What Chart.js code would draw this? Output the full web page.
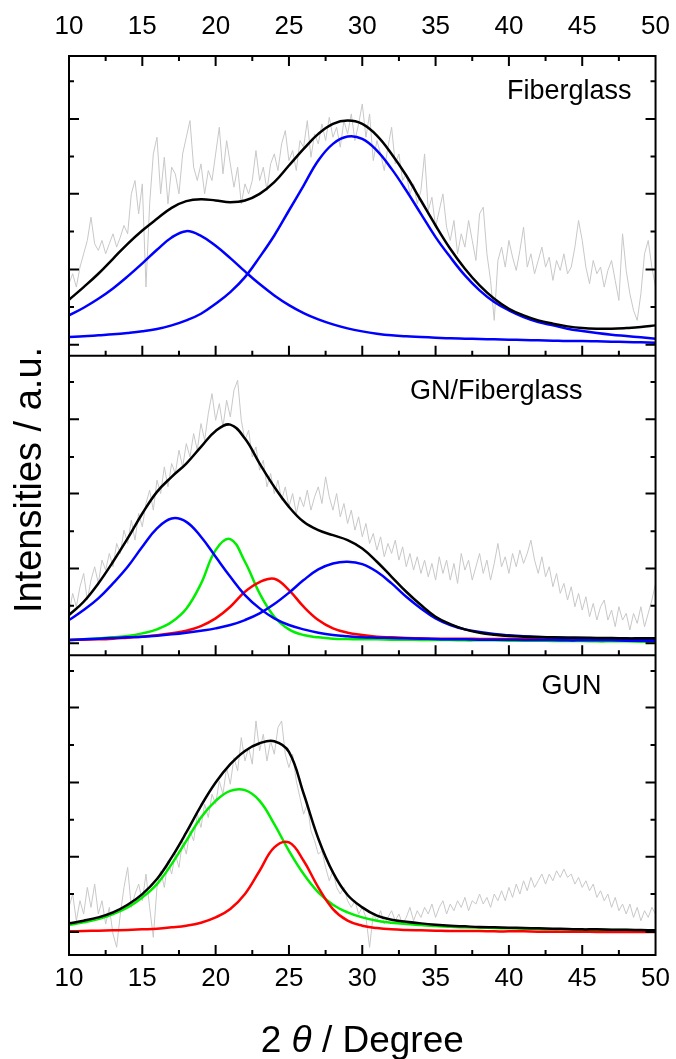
<!DOCTYPE html>
<html>
<head>
<meta charset="utf-8">
<script src="https://cdn.jsdelivr.net/npm/chart.js@4"></script>
<style>
  html, body { margin: 0; padding: 0; background: #fff; }
  #wrap { position: relative; width: 676px; height: 1059px; }
</style>
</head>
<body>
<div id="wrap"><canvas id="xrdChart"></canvas></div>
<script>
// 2-theta grid of the fitted curves and of the measured scans
const fitAngles = [10,11,12,13,14,15,16,17,18,19,20,21,22,23,24,25,26,27,28,29,30,
  31,32,33,34,35,36,37,38,39,40,41,42,43,44,45,46,47,48,49,50];
const rawAngles = [10,10.25,10.5,10.75,11,11.25,11.5,11.75,12,12.25,12.5,12.75,
  13,13.25,13.5,13.75,14,14.25,14.5,14.75,15,15.25,15.5,15.75,
  16,16.25,16.5,16.75,17,17.25,17.5,17.75,18,18.25,18.5,18.75,
  19,19.25,19.5,19.75,20,20.25,20.5,20.75,21,21.25,21.5,21.75,
  22,22.25,22.5,22.75,23,23.25,23.5,23.75,24,24.25,24.5,24.75,
  25,25.25,25.5,25.75,26,26.25,26.5,26.75,27,27.25,27.5,27.75,
  28,28.25,28.5,28.75,29,29.25,29.5,29.75,30,30.25,30.5,30.75,
  31,31.25,31.5,31.75,32,32.25,32.5,32.75,33,33.25,33.5,33.75,
  34,34.25,34.5,34.75,35,35.25,35.5,35.75,36,36.25,36.5,36.75,
  37,37.25,37.5,37.75,38,38.25,38.5,38.75,39,39.25,39.5,39.75,
  40,40.25,40.5,40.75,41,41.25,41.5,41.75,42,42.25,42.5,42.75,
  43,43.25,43.5,43.75,44,44.25,44.5,44.75,45,45.25,45.5,45.75,
  46,46.25,46.5,46.75,47,47.25,47.5,47.75,48,48.25,48.5,48.75,
  49,49.25,49.5,49.75,50];

// Fiberglass
const fibRaw = [216,246,206,266,306,346,416,336,316,346,306,336,
  366,326,356,391,366,486,526,426,516,206,456,606,
  656,486,596,456,566,546,486,606,656,706,566,526,
  576,486,556,526,606,686,546,646,576,506,566,456,
  516,486,526,616,526,566,496,576,606,556,636,676,
  586,616,556,646,626,706,596,666,636,696,646,716,
  656,686,626,706,666,726,646,696,756,656,726,586,
  646,606,556,626,686,576,606,526,546,486,516,456,
  496,606,436,476,386,436,486,386,346,406,306,366,
  326,406,346,286,426,446,306,226,106,286,326,266,
  346,296,256,316,386,266,306,246,286,326,266,296,
  226,286,256,306,246,266,326,406,346,266,216,286,
  246,266,206,256,286,226,166,366,256,186,136,106,
  186,306,346,266,206];
const fibFit = [168,206,246,291,336,376,411,444,464,470,466,461,466,486,521,571,621,666,696,706,
  696,661,606,541,466,391,321,261,211,171,141,121,106,96,88,83,81,81,83,86,91];
const fibPeak1 = [121,144,171,202,238,277,318,355,374,360,330,293,253,215,181,152,128,109,94,82,
  73,66,61,58,56,54,52,51,50,49,48,47,46,45,44,44,43,42,41,40,39];
const fibPeak2 = [56,58,61,64,68,73,80,91,106,126,156,191,236,296,361,436,511,586,636,658,
  651,616,561,496,426,356,296,241,196,161,136,116,101,91,81,74,68,63,59,55,51];

// GN/Fiberglass
const gnRaw = [126,186,146,206,246,166,226,266,216,286,256,306,
  266,336,306,376,336,406,346,426,386,456,496,436,
  526,486,566,506,576,546,616,566,636,596,666,616,
  696,646,726,786,706,756,686,766,716,796,826,706,
  646,676,596,626,556,586,506,546,486,526,466,506,
  446,486,426,476,446,496,436,476,506,456,536,476,
  436,486,416,456,396,436,376,416,356,396,336,366,
  316,356,296,336,306,346,286,326,266,306,256,296,
  246,286,236,276,226,296,246,286,226,276,216,306,
  256,286,226,266,306,246,286,226,276,336,266,296,
  246,306,266,316,276,306,346,286,246,296,236,266,
  206,246,186,216,166,206,146,186,136,176,116,156,
  106,146,166,106,136,86,146,106,126,76,126,96,
  146,86,126,166,216];
const gnFit = [121,161,216,281,351,426,491,536,576,626,674,693,651,576,506,446,401,376,361,346,
  321,281,236,191,151,116,94,78,68,62,58,56,55,54,53,53,52,52,51,51,51];
const gnPeak17 = [106,136,171,216,266,326,381,411,401,356,296,236,181,141,111,91,78,68,61,57,
  54,53,52,51,50,49,48,48,47,47,47,46,46,46,45,45,45,45,44,44,44];
const gnPeak21 = [46,48,51,54,58,66,78,100,140,215,316,349,281,186,116,78,61,54,50,49,
  48,48,47,47,46,46,46,45,45,45,44,44,44,43,43,43,42,42,42,41,41];
const gnPeak24 = [46,47,48,50,53,56,60,66,74,88,111,146,191,220,230,196,146,106,81,68,
  61,56,54,52,51,50,50,50,49,49,49,49,48,48,48,48,47,47,47,47,47];
const gnPeak29 = [46,48,50,52,54,56,59,63,68,74,81,91,106,126,154,188,226,258,276,281,
  274,251,216,176,141,111,91,78,70,64,60,57,55,54,53,52,51,51,50,50,49];

// GUN
const gunRaw = [143,183,103,163,123,203,143,213,123,163,93,143,
  63,23,123,203,263,143,183,213,163,243,143,53,
  203,253,203,283,243,303,263,343,303,373,343,423,
  383,453,413,483,453,523,483,563,513,593,553,653,
  583,623,573,703,613,663,583,643,603,683,703,603,
  563,603,523,473,423,453,373,343,303,313,263,223,
  253,203,183,203,163,143,163,123,143,113,23,123,
  103,133,93,113,133,103,123,93,113,143,103,133,
  113,143,123,153,113,143,163,123,153,133,163,143,
  173,133,163,153,183,153,173,143,183,163,193,163,
  203,173,213,183,223,193,233,203,223,243,213,243,
  223,253,233,258,233,243,213,233,203,223,193,213,
  173,193,163,183,143,173,133,153,123,153,113,143,
  103,133,113,143,123];
const gunFit = [95,103,113,128,151,183,228,293,368,448,518,573,613,636,642,610,485,350,248,180,
  143,118,106,100,95,91,88,86,84,83,82,81,80,79,78,77,77,76,76,75,74];
const gunPeakG = [91,98,108,123,143,173,213,273,343,413,463,493,495,463,393,313,243,188,151,128,
  113,103,97,93,90,87,85,83,82,81,80,79,78,77,77,76,76,75,75,74,74];
const gunPeakR = [71,72,73,74,75,77,79,83,88,97,113,138,183,253,323,338,283,203,138,103,
  88,81,77,75,74,73,72,72,72,71,71,71,70,70,70,70,69,69,69,69,69];

// unlabelled intensity ticks of each panel
const fibTicks = [33,146,259,373,486,598,711,824];
const gnTicks = [36,149,261,373,486,596,709,821];
const gunTicks = [69,183,295,406,518,631,743,853];

const panelNames = ['Fiberglass', 'GN/Fiberglass', 'GUN'];

const GRAY = '#c8c8c8', BLACK = '#000000', BLUE = '#0000ff', GREEN = '#00ee00', RED = '#ff0000';

Chart.defaults.font.family = "'Liberation Sans', Arial, sans-serif";
Chart.defaults.color = '#000';

function pts(xs, ys) {
  return ys.map((v, i) => ({x: xs[i], y: v}));
}
function rawSet(values, axis) {
  return {data: pts(rawAngles, values), yAxisID: axis, borderColor: GRAY, borderWidth: 1, order: 3, tension: 0};
}
function fitSet(values, axis, color, order) {
  return {data: pts(fitAngles, values), yAxisID: axis, borderColor: color, borderWidth: 2.5,
    order: order, tension: 0.4};
}

const panelAxes = ['yFib', 'yGN', 'yGUN'];
const tickSets = [fibTicks, gnTicks, gunTicks];
const labelSpots = [{dx: 24, dy: 43}, {dx: 73, dy: 43}, {dx: 54, dy: 39}];

const framePlugin = {
  id: 'frame',
  afterDraw(chart) {
    const {ctx, chartArea: area, scales} = chart;
    const xs = scales.x;
    const majors = xs.ticks.map(t => t.value);
    const minors = majors.slice(1).map((v, i) => (v + majors[i]) / 2);
    ctx.save();
    ctx.strokeStyle = '#000';
    ctx.lineWidth = 2;
    ctx.beginPath();
    panelAxes.forEach((id, i) => {
      const ys = scales[id];
      const top = ys.top, bottom = ys.bottom;
      [[majors, 10], [minors, 5]].forEach(([vals, len]) => {
        vals.forEach(v => {
          if (v <= xs.min || v >= xs.max) return;
          const px = xs.getPixelForValue(v);
          ctx.moveTo(px, bottom); ctx.lineTo(px, bottom - len);
          if (i === 0) { ctx.moveTo(px, top); ctx.lineTo(px, top + len); }
        });
      });
      tickSets[i].forEach((v, k) => {
        const py = ys.getPixelForValue(v);
        const len = k % 2 === 0 ? 10 : 5;
        ctx.moveTo(area.left, py); ctx.lineTo(area.left + len, py);
        ctx.moveTo(area.right, py); ctx.lineTo(area.right - len, py);
      });
      if (i > 0) { ctx.moveTo(area.left, top); ctx.lineTo(area.right, top); }
    });
    ctx.stroke();
    ctx.strokeRect(area.left, area.top, area.right - area.left, area.bottom - area.top);

    // panel names
    ctx.fillStyle = '#000';
    ctx.font = "27px 'Liberation Sans', Arial, sans-serif";
    ctx.textAlign = 'right';
    ctx.textBaseline = 'alphabetic';
    panelAxes.forEach((id, i) => {
      const ys = scales[id];
      ctx.fillText(panelNames[i], area.right - labelSpots[i].dx, ys.top + labelSpots[i].dy);
    });

    // y title
    ctx.save();
    ctx.translate(31, 480);
    ctx.rotate(-Math.PI / 2);
    ctx.textAlign = 'center';
    ctx.textBaseline = 'middle';
    ctx.font = "38px 'Liberation Sans', Arial, sans-serif";
    ctx.fillText('Intensities / a.u.', 0, 0);
    ctx.restore();

    // x title with italic theta
    const parts = [
      ['2 ', "37px 'Liberation Sans', Arial, sans-serif"],
      ['\u03b8', "italic 37px 'Liberation Sans', Arial, sans-serif"],
      [' / Degree', "37px 'Liberation Sans', Arial, sans-serif"]
    ];
    let total = 0;
    parts.forEach(([t, f]) => { ctx.font = f; total += ctx.measureText(t).width; });
    let x = (area.left + area.right) / 2 - total / 2;
    ctx.textAlign = 'left';
    parts.forEach(([t, f]) => {
      ctx.font = f;
      ctx.fillText(t, x, 1052);
      x += ctx.measureText(t).width;
    });
    ctx.restore();
  }
};

const tickFont = {size: 26};
const panelAxis = {type: 'linear', position: 'left', stack: 'xrd', stackWeight: 1, min: 0, max: 900, display: false};

new Chart(document.getElementById('xrdChart'), {
  type: 'line',
  data: {
    datasets: [
      rawSet(fibRaw, 'yFib'),
      fitSet(fibPeak1, 'yFib', BLUE, 1),
      fitSet(fibPeak2, 'yFib', BLUE, 1),
      fitSet(fibFit, 'yFib', BLACK, 0),
      rawSet(gnRaw, 'yGN'),
      fitSet(gnPeak17, 'yGN', BLUE, 1),
      fitSet(gnPeak29, 'yGN', BLUE, 1),
      fitSet(gnPeak24, 'yGN', RED, 1),
      fitSet(gnPeak21, 'yGN', GREEN, 1),
      fitSet(gnFit, 'yGN', BLACK, 0),
      rawSet(gunRaw, 'yGUN'),
      fitSet(gunPeakR, 'yGUN', RED, 1),
      fitSet(gunPeakG, 'yGUN', GREEN, 1),
      fitSet(gunFit, 'yGUN', BLACK, 0)
    ]
  },
  options: {
    responsive: true,
    maintainAspectRatio: false,
    animation: false,
    devicePixelRatio: 1,
    layout: {padding: {left: 69, right: 18, top: 0, bottom: 0}},
    elements: {point: {radius: 0}},
    plugins: {legend: {display: false}, tooltip: {enabled: false}},
    scales: {
      x: {
        type: 'linear', position: 'bottom', min: 10, max: 50,
        ticks: {stepSize: 5, font: tickFont, padding: 0, maxRotation: 0},
        grid: {display: false},
        border: {display: false},
        afterFit: s => { s.height = 104; }
      },
      xTop: {
        type: 'linear', position: 'top', min: 10, max: 50,
        ticks: {stepSize: 5, font: tickFont, padding: 6, maxRotation: 0},
        grid: {display: false},
        border: {display: false},
        afterFit: s => { s.height = 56; }
      },
      // stacked left axes are laid out bottom-up, so the lowest panel comes first
      yGUN: Object.assign({}, panelAxis),
      yGN: Object.assign({}, panelAxis),
      yFib: Object.assign({}, panelAxis)
    }
  },
  plugins: [framePlugin]
});
</script>
</body>
</html>
